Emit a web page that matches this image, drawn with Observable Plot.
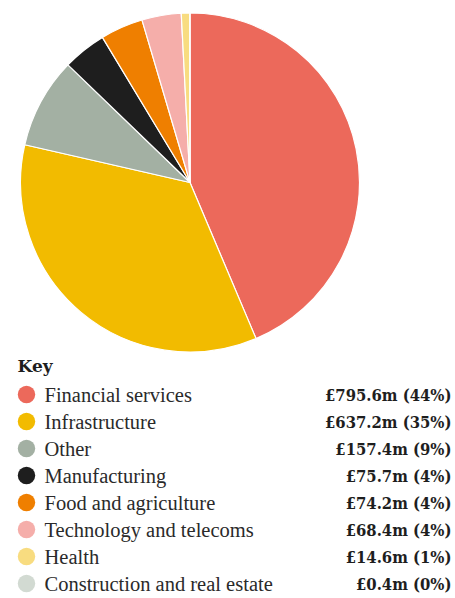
<!DOCTYPE html>
<html>
<head>
<meta charset="utf-8">
<script src="https://cdn.jsdelivr.net/npm/d3@7"></script>
<script src="https://cdn.jsdelivr.net/npm/@observablehq/plot@0.6"></script>
<style>
  html, body { margin: 0; padding: 0; background: #fff; }
  #chart { width: 455px; }
  #chart svg { display: block; }
</style>
</head>
<body>
<div id="chart"></div>
<script>
const sectors = ["Financial services", "Infrastructure", "Other", "Manufacturing", "Food and agriculture", "Technology and telecoms", "Health", "Construction and real estate"];
const values = [795.6, 637.2, 157.4, 75.7, 74.2, 68.4, 14.6, 0.4];
const valueLabels = ["£795.6m (44%)", "£637.2m (35%)", "£157.4m (9%)", "£75.7m (4%)", "£74.2m (4%)", "£68.4m (4%)", "£14.6m (1%)", "£0.4m (0%)"];
const colors = ["#ec695b", "#f2bb00", "#a3b0a3", "#1e1e1e", "#ef7f00", "#f5aeaa", "#f8dc80", "#d2dad2"];
const keyTitle = "Key";

const data = sectors.map((s, i) => ({sector: s, value: values[i], label: valueLabels[i]}));

const colorScale = {domain: sectors, range: colors};

// Pie chart
const pie = Plot.plot({
  width: 455,
  height: 354,
  margin: 0,
  x: {domain: [-1, 1], range: [20.5, 359.5], axis: null},
  y: {domain: [-1, 1], range: [352, 13], axis: null},
  color: colorScale,
  marks: [
    Plot.dot(data, {
      x: () => 0,
      y: () => 0,
      fill: "sector",
      render(index, scales, vals, dimensions, context) {
        const cx = scales.x(0), cy = scales.y(0);
        const r = scales.x(1) - scales.x(0);
        const arcs = d3.pie().sort(null).value(i => data[i].value)(Array.from(index));
        const arc = d3.arc().innerRadius(0).outerRadius(r);
        const g = d3.create("svg:g").attr("transform", `translate(${cx},${cy})`);
        g.selectAll("path").data(arcs).join("path")
          .attr("d", arc)
          .attr("fill", d => vals.fill[d.data])
          .attr("stroke", "#fff")
          .attr("stroke-width", 1.2)
          .attr("stroke-linejoin", "round");
        return g.node();
      }
    })
  ]
});

// Legend
const legend = Plot.plot({
  width: 455,
  height: 244,
  margin: 0,
  x: {domain: [0, 455], range: [0, 455], axis: null},
  y: {type: "point", domain: sectors, range: [38.5, 231], padding: 0, axis: null},
  color: colorScale,
  marks: [
    Plot.text([keyTitle], {
      frameAnchor: "top-left", dx: 17, dy: 12,
      text: d => d, fontFamily: "DejaVu Serif", fontWeight: "bold",
      fontSize: 17, fill: "#1e1e1e", lineAnchor: "middle"
    }),
    Plot.dot(data, {x: () => 26, y: "sector", r: 8.7, fill: "sector"}),
    Plot.text(data, {
      x: () => 44, y: "sector", text: "sector", textAnchor: "start",
      fontFamily: "Liberation Serif", fontSize: 20.5, fill: "#2a2a2a", dy: 1
    }),
    Plot.text(data, {
      x: () => 451, y: "sector", text: "label", textAnchor: "end",
      fontFamily: "DejaVu Serif Condensed, DejaVu Serif", fontWeight: "bold",
      fontSize: 16.5, fill: "#1e1e1e", dy: 1
    })
  ]
});

const el = document.getElementById("chart");
el.appendChild(pie);
el.appendChild(legend);
</script>
</body>
</html>
